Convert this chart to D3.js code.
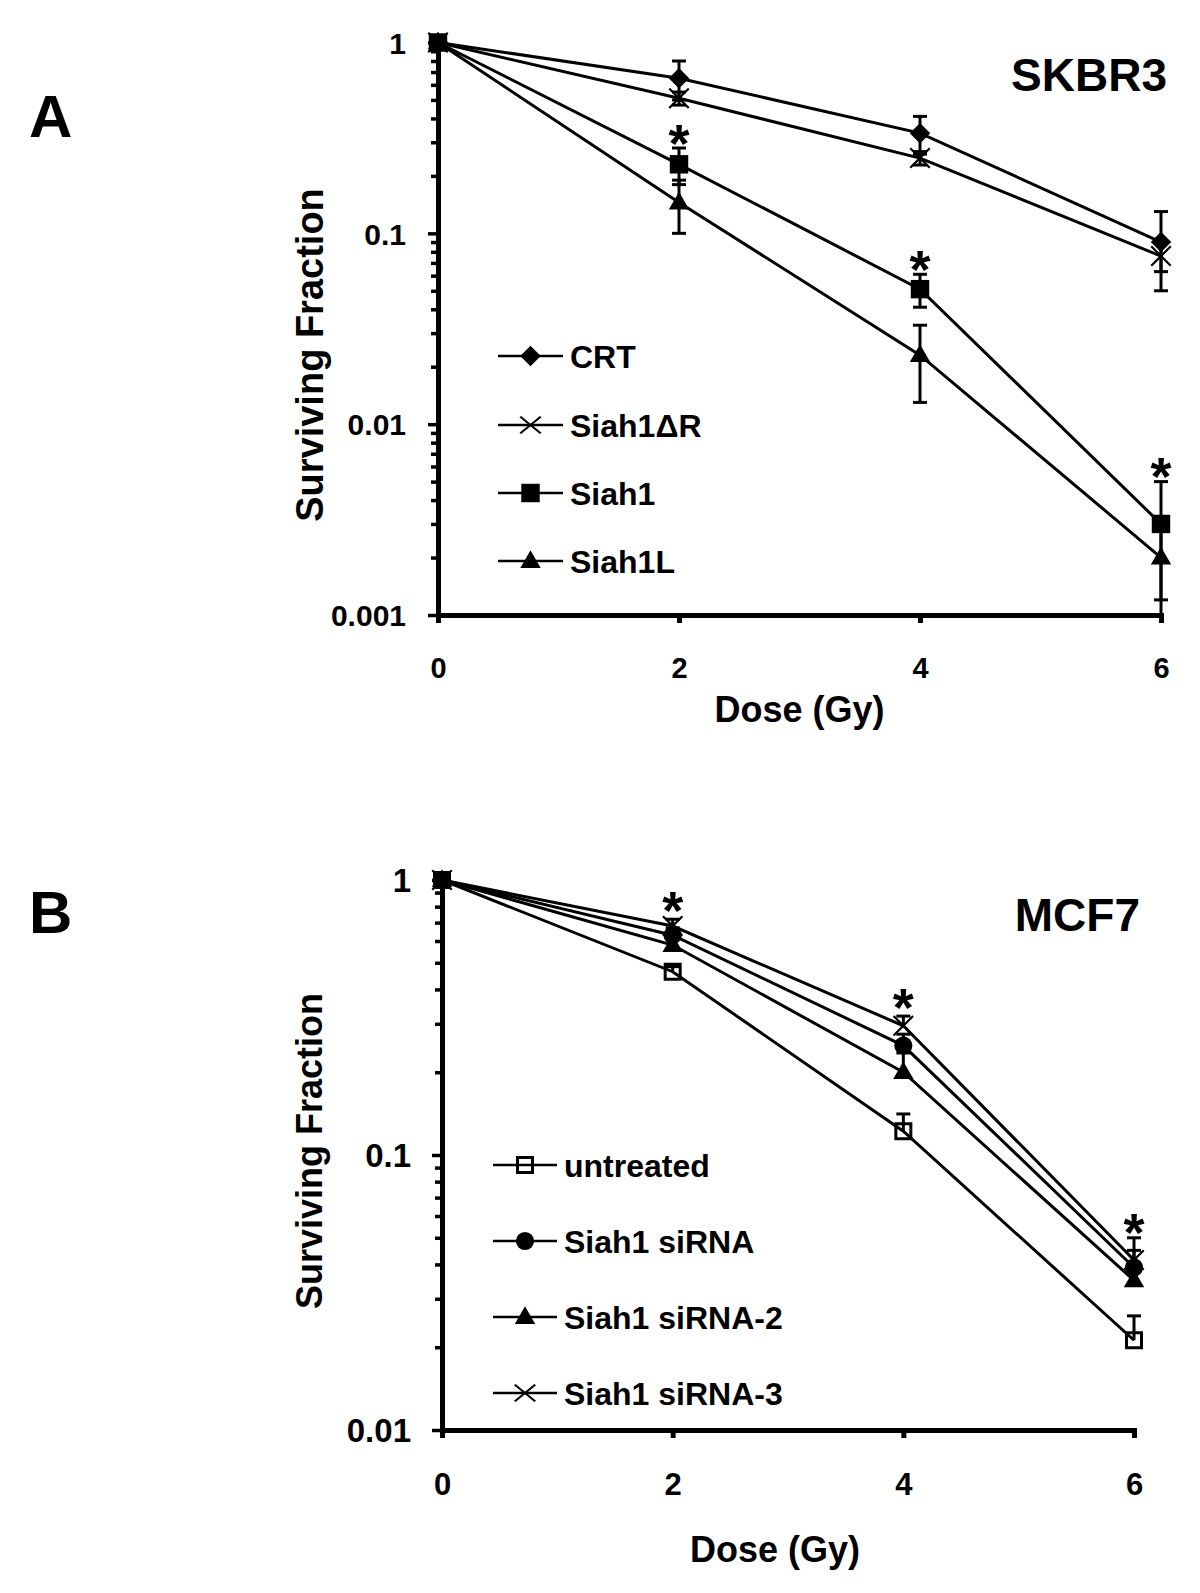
<!DOCTYPE html>
<html>
<head>
<meta charset="utf-8">
<script src="https://cdn.jsdelivr.net/npm/d3@7"></script>
<style>
  html, body { margin: 0; padding: 0; background: #fff; }
  svg { display: block; }
  text { font-family: "Liberation Sans", Arial, Helvetica, sans-serif; font-weight: bold; fill: #000; }
</style>
</head>
<body>
<svg id="chart" width="1200" height="1593"></svg>
<script>
// ---------------- DATA ----------------
const doses = [0, 2, 4, 6];
const doseTickLabels = ["0", "2", "4", "6"];

// Panel A : SKBR3 (symmetric error bars)
const aSeriesNames = ["CRT", "Siah1\u0394R", "Siah1", "Siah1L"];
const aCRT        = [1, 0.65, 0.335, 0.090];
const aCRTErr     = [0, 0.15, 0.075, 0.040];
const aSiah1dR    = [1, 0.51, 0.248, 0.076];
const aSiah1dRErr = [0, 0.04, 0.020, 0.013];
const aSiah1      = [1, 0.23, 0.051, 0.0030];
const aSiah1Err   = [0, 0.05, 0.010, 0.0020];
const aSiah1L     = [1, 0.145, 0.023, 0.0020];
const aSiah1LErr  = [0, 0.045, 0.010, 0.0008];
const aYTicks      = [1, 0.1, 0.01, 0.001];
const aYTickLabels = ["1", "0.1", "0.01", "0.001"];
const aStarDoses = [2, 4, 6];
const aStarSF    = [0.342, 0.0746, 0.0062];

// Panel B : MCF7 (upper error bars only)
const bSeriesNames = ["untreated", "Siah1 siRNA", "Siah1 siRNA-2", "Siah1 siRNA-3"];
const bUntreated    = [1, 0.464, 0.122, 0.0212];
const bUntreatedErr = [0, 0.02, 0.019, 0.0048];
const bSiRNA        = [1, 0.63, 0.25, 0.039];
const bSiRNAErr     = [0, 0.04, 0.025, 0.011];
const bSiRNA2       = [1, 0.58, 0.20, 0.035];
const bSiRNA2Err    = [0, 0.03, 0.035, 0.004];
const bSiRNA3       = [1, 0.68, 0.295, 0.0415];
const bSiRNA3Err    = [0, 0.04, 0.025, 0.0035];
const bYTicks      = [1, 0.1, 0.01];
const bYTickLabels = ["1", "0.1", "0.01"];
const bStarDoses = [2, 4, 6];
const bStarSF    = [0.86, 0.382, 0.058];

// ---------------- DRAWING ----------------
const svg = d3.select("#chart");

function markerPath(kind) {
  switch (kind) {
    case "diamond":  return d3.symbol(d3.symbolSquare, 210)();
    case "times":    return d3.symbol(d3.symbolTimes, 250)();
    case "square":   return d3.symbol(d3.symbolSquare, 340)();
    case "triangle": return d3.symbol(d3.symbolTriangle, 180)();
    case "circle":   return d3.symbol(d3.symbolCircle, 260)();
    case "osquare":  return d3.symbol(d3.symbolSquare, 225)();
  }
}
function markerStyle(sel, kind) {
  sel.attr("d", markerPath(kind));
  if (kind === "times") {
    sel.attr("fill", "none").attr("stroke", "#000").attr("stroke-width", 2.2);
  } else if (kind === "osquare") {
    sel.attr("fill", "none").attr("stroke", "#000").attr("stroke-width", 3);
  } else {
    sel.attr("fill", "#000").attr("stroke", "none");
  }
}
function markerTransform(kind, px, py, legend) {
  let t = `translate(${px},${py})`;
  if (kind === "diamond") t += " rotate(45)";
  if (kind === "times" && legend) t += " scale(1.05,0.85)";
  if (kind === "triangle") t += " translate(0,1)";
  return t;
}

function drawPanel(cfg) {
  const g = svg.append("g");
  const x = d3.scaleLinear().domain([0, 6]).range(cfg.xRange);
  const y = d3.scaleLog().domain(cfg.yDomain).range(cfg.yRange);

  // minor ticks
  const minor = [];
  const lo = Math.round(Math.log10(cfg.yDomain[0])), hi = Math.round(Math.log10(cfg.yDomain[1]));
  for (let e = lo; e < hi; e++) {
    for (let m = 2; m <= 9; m++) minor.push(m * Math.pow(10, e));
  }
  const gyMinor = g.append("g").attr("transform", `translate(${cfg.xRange[0]},0)`)
    .call(d3.axisLeft(y).tickValues(minor).tickSize(7).tickSizeOuter(0).tickFormat(""));
  gyMinor.select(".domain").remove();
  gyMinor.selectAll(".tick line").attr("stroke", "#000").attr("stroke-width", 3.5);

  const gy = g.append("g").attr("transform", `translate(${cfg.xRange[0]},0)`)
    .call(d3.axisLeft(y).tickValues(cfg.yTicks).tickSize(10).tickSizeOuter(0).tickPadding(cfg.yPad)
      .tickFormat((d, i) => cfg.yTickLabels[i]));
  gy.select(".domain").attr("stroke", "#000").attr("stroke-width", 5).attr("stroke-linecap", "square");
  gy.selectAll(".tick line").attr("stroke", "#000").attr("stroke-width", 3.5);
  gy.selectAll(".tick text").style("font-size", cfg.yTickSize + "px").attr("dy", "0.36em");

  const gx = g.append("g").attr("transform", `translate(0,${cfg.yRange[0]})`)
    .call(d3.axisBottom(x).tickValues(doses).tickSize(8).tickSizeOuter(0).tickPadding(cfg.xPad)
      .tickFormat((d, i) => doseTickLabels[i]));
  gx.select(".domain").attr("stroke", "#000").attr("stroke-width", 5).attr("stroke-linecap", "square");
  gx.selectAll(".tick line").attr("stroke", "#000").attr("stroke-width", 5);
  gx.selectAll(".tick text").style("font-size", cfg.xTickSize + "px");

  // axis titles
  g.append("text")
    .attr("transform", `translate(${cfg.yTitleX},${cfg.yTitleY}) rotate(-90)`)
    .attr("text-anchor", "middle").style("font-size", cfg.yTitleSize + "px")
    .text("Surviving Fraction");
  g.append("text")
    .attr("x", (cfg.xRange[0] + cfg.xRange[1]) / 2 + cfg.xTitleShift).attr("y", cfg.xTitleY)
    .attr("text-anchor", "middle").style("font-size", "36px")
    .text("Dose (Gy)");

  // panel letter & cell line label
  g.append("text").attr("x", 29).attr("y", cfg.letterY).style("font-size", "60px").text(cfg.letter);
  g.append("text").attr("x", cfg.titleX).attr("y", cfg.titleY).attr("text-anchor", "end")
    .style("font-size", "46px").text(cfg.title);

  const line = d3.line().x((d, i) => x(doses[i])).y(d => y(d));

  // lines
  cfg.series.forEach(s => {
    g.append("path").datum(s.values).attr("d", line)
      .attr("fill", "none").attr("stroke", "#000").attr("stroke-width", 3);
  });
  // error bars
  cfg.series.forEach(s => {
    s.values.forEach((v, i) => {
      const e = s.errs[i];
      if (!e) return;
      const cx = x(doses[i]);
      const top = y(v + e);
      const bot = cfg.plusOnly ? y(v) : y(Math.max(v - e, cfg.yDomain[0]));
      g.append("line").attr("x1", cx).attr("x2", cx).attr("y1", top).attr("y2", bot)
        .attr("stroke", "#000").attr("stroke-width", 3);
      g.append("line").attr("x1", cx - 7).attr("x2", cx + 7).attr("y1", top).attr("y2", top)
        .attr("stroke", "#000").attr("stroke-width", 3);
      if (!cfg.plusOnly && v - e > cfg.yDomain[0])
        g.append("line").attr("x1", cx - 7).attr("x2", cx + 7).attr("y1", bot).attr("y2", bot)
          .attr("stroke", "#000").attr("stroke-width", 3);
    });
  });
  // markers
  cfg.series.forEach(s => {
    s.values.forEach((v, i) => {
      const p = g.append("path");
      markerStyle(p, s.marker);
      p.attr("transform", markerTransform(s.marker, x(doses[i]), y(v), false));
    });
  });

  // stars
  const starSize = 54;
  cfg.starDoses.forEach((d, i) => {
    g.append("text").attr("x", x(d)).attr("y", y(cfg.starSF[i]) + 0.57 * starSize)
      .attr("text-anchor", "middle").style("font-size", starSize + "px").text("*");
  });

  // legend
  cfg.series.forEach((s, i) => {
    const ly = cfg.legendY[i];
    g.append("line").attr("x1", cfg.legendX[0]).attr("x2", cfg.legendX[1]).attr("y1", ly).attr("y2", ly)
      .attr("stroke", "#000").attr("stroke-width", 2.5);
    const p = g.append("path");
    markerStyle(p, s.marker);
    p.attr("transform", markerTransform(s.marker, (cfg.legendX[0] + cfg.legendX[1]) / 2, ly, true));
    g.append("text").attr("x", cfg.legendX[1] + 7).attr("y", ly + 11.5)
      .style("font-size", "32px").text(s.name);
  });
}

drawPanel({
  letter: "A", letterY: 137, title: "SKBR3", titleX: 1167, titleY: 91,
  xRange: [438, 1161], yDomain: [0.001, 1], yRange: [615, 42.5],
  yTicks: aYTicks, yTickLabels: aYTickLabels, yTickSize: 30, yPad: 22,
  xTickSize: 29, xPad: 34,
  yTitleX: 323, yTitleY: 355, yTitleSize: 38, xTitleY: 722, xTitleShift: 0,
  starDoses: aStarDoses, starSF: aStarSF, plusOnly: false,
  legendX: [498, 563], legendY: [356, 425, 493, 561],
  series: [
    { name: aSeriesNames[0], values: aCRT, errs: aCRTErr, marker: "diamond" },
    { name: aSeriesNames[1], values: aSiah1dR, errs: aSiah1dRErr, marker: "times" },
    { name: aSeriesNames[2], values: aSiah1, errs: aSiah1Err, marker: "square" },
    { name: aSeriesNames[3], values: aSiah1L, errs: aSiah1LErr, marker: "triangle" }
  ]
});

drawPanel({
  letter: "B", letterY: 933, title: "MCF7", titleX: 1140, titleY: 931,
  xRange: [442, 1134], yDomain: [0.01, 1], yRange: [1430, 880],
  yTicks: bYTicks, yTickLabels: bYTickLabels, yTickSize: 33, yPad: 21,
  xTickSize: 31, xPad: 35,
  yTitleX: 322, yTitleY: 1151, yTitleSize: 36, xTitleY: 1562, xTitleShift: -13,
  starDoses: bStarDoses, starSF: bStarSF, plusOnly: true,
  legendX: [493, 557], legendY: [1165, 1241, 1317, 1393],
  series: [
    { name: bSeriesNames[0], values: bUntreated, errs: bUntreatedErr, marker: "osquare" },
    { name: bSeriesNames[1], values: bSiRNA, errs: bSiRNAErr, marker: "circle" },
    { name: bSeriesNames[2], values: bSiRNA2, errs: bSiRNA2Err, marker: "triangle" },
    { name: bSeriesNames[3], values: bSiRNA3, errs: bSiRNA3Err, marker: "times" }
  ]
});
</script>
</body>
</html>
